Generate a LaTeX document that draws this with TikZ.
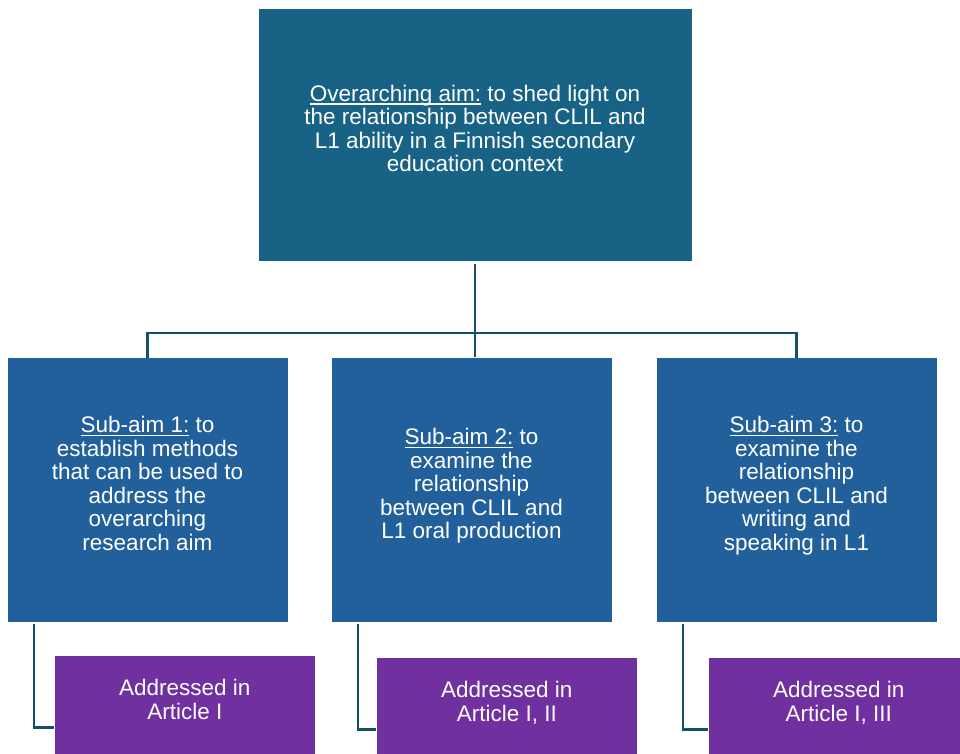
\documentclass[tikz,border=0pt]{standalone}
\usepackage{fontspec}
\setmainfont{Liberation Sans}
\usetikzlibrary{positioning}

\definecolor{aimteal}{HTML}{186385}
\definecolor{subblue}{HTML}{22609C}
\definecolor{artpurple}{HTML}{7030A0}
\definecolor{linkteal}{HTML}{174F6B}

\newcommand{\aimline}[1]{\setbox0\hbox{#1}\rlap{\rule[-3.5pt]{\wd0}{1.5pt}}\box0\relax}
\newcommand{\lastdepth}{\rule[-12pt]{0pt}{1pt}}

\tikzset{
  box/.style={draw=white, line width=0.6pt, text=white, align=center, inner sep=0pt,
    font=\fontsize{22.5}{23.5}\selectfont},
  aimbox/.style={box, fill=aimteal, minimum width=434pt, minimum height=253pt},
  subbox/.style={box, fill=subblue, minimum width=281pt, minimum height=265pt},
  artbox/.style={box, fill=artpurple, minimum width=261pt, minimum height=100pt, anchor=north west},
  link/.style={draw=linkteal, line width=2.4pt}
}

\begin{document}
\begin{tikzpicture}[x=1pt,y=-1pt]
\useasboundingbox (0,0) rectangle (960,753);
\clip (0,0) rectangle (960,753);

\node[aimbox] (main) at (475,134.5) {\aimline{Overarching aim:} to shed light on\\the relationship between CLIL and\\L1 ability in a Finnish secondary\\education context\lastdepth};

\node[subbox] (sub1) at (147.5,489.5) {\aimline{Sub-aim 1:} to\\establish methods\\that can be used to\\address the\\overarching\\research aim\lastdepth};
\node[subbox] (sub2) at (471.5,489.5) {\aimline{Sub-aim 2:} to\\examine the\\relationship\\between CLIL and\\L1 oral production\lastdepth};
\node[subbox] (sub3) at (796.5,489.5) {\aimline{Sub-aim 3:} to\\examine the\\relationship\\between CLIL and\\writing and\\speaking in L1\lastdepth};

\node[artbox] (art1) at (54,655) {Addressed in\\Article I\lastdepth};
\node[artbox] (art2) at (376,657) {Addressed in\\Article I, II\lastdepth};
\node[artbox] (art3) at (708,657) {Addressed in\\Article I, III\lastdepth};

% tree connectors
\coordinate (bus) at (475,333);
\draw[link] (475,264) coordinate (drop) -- (drop |- sub2.north);
\draw[link] ([yshift=-1pt]sub1.north) |- (bus) -| ([yshift=-1pt]sub3.north);

\foreach \i in {1,2,3}
  \draw[link] ([xshift=27pt,yshift=-2pt]sub\i.south west) |- ([yshift=-22pt]art\i.west);
\end{tikzpicture}
\end{document}
